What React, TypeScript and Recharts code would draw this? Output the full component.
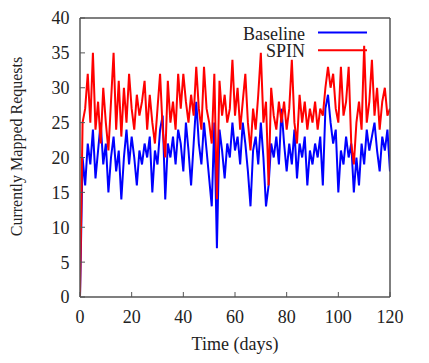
import { Legend, Line, LineChart, XAxis, YAxis } from "recharts";

// requests mapped per day
const baseline = [
  0, 20, 16, 22, 19, 24, 17, 21, 25, 19, 22, 15, 20, 23, 18, 21, 14, 20, 24, 19,
  23, 20, 16, 21, 19, 22, 20, 23, 15, 21, 19, 24, 26, 14, 22, 20, 23, 19, 24, 22,
  18, 25, 21, 16, 22, 28, 22, 19, 25, 21, 17, 13, 25, 7, 24, 21, 17, 22, 20, 25,
  21, 23, 19, 25, 22, 18, 13, 21, 23, 19, 25, 20, 13, 16, 22, 20, 23, 19, 27, 22,
  18, 22, 19, 24, 17, 22, 20, 23, 16, 21, 19, 22, 20, 23, 16, 27, 29, 25, 22, 24,
  15, 21, 19, 23, 20, 22, 15, 20, 16, 22, 19, 24, 21, 23, 25, 21, 18, 23, 21, 24,
  18,
];

const spin = [
  0, 25, 27, 32, 25, 35, 24, 28, 22, 30, 25, 21, 28, 35, 24, 31, 23, 30, 25, 32,
  27, 24, 29, 26, 28, 31, 24, 29, 25, 22, 27, 32, 24, 20, 31, 25, 28, 24, 32, 27,
  32, 28, 25, 29, 26, 33, 27, 24, 33, 27, 25, 22, 32, 14, 31, 26, 29, 25, 27, 34,
  26, 30, 24, 28, 32, 25, 21, 27, 24, 29, 35, 25, 28, 16, 30, 26, 24, 28, 25, 28,
  24, 27, 34, 25, 22, 29, 25, 28, 24, 27, 25, 28, 24, 27, 26, 30, 33, 30, 32, 27,
  25, 33, 26, 28, 33, 22, 19, 25, 28, 24, 36, 25, 28, 34, 26, 30, 24, 28, 30, 26,
  27,
];

const days = baseline.map((_, i) => i);
const xTicks = [0, 20, 40, 60, 80, 100, 120];
const yTicks = [0, 5, 10, 15, 20, 25, 30, 35, 40];

const data = days.map((d, i) => ({ day: d, baseline: baseline[i], spin: spin[i] }));

const FONT = "Liberation Serif";
const FRAME = "#555";
const txt = { fontFamily: FONT };

function LegendBox({ payload }: any) {
  return (
    <svg width={429} height={70} style={txt}>
      {(payload || []).map((p: any, i: number) => (
        <g key={p.value}>
          <text
            x={305}
            y={39.5 + i * 17.7}
            textAnchor="end"
            style={txt}
            fontSize={18}
            fill="#222"
          >
            {p.value}
          </text>
          <line
            x1={318}
            x2={367}
            y1={32.5 + i * 17.7}
            y2={32.5 + i * 17.7}
            stroke={p.color}
            strokeWidth={2}
          />
        </g>
      ))}
    </svg>
  );
}

export default function App() {
  const tickStyle = { fill: "#222", fontSize: 18, style: txt };
  return (
    <div style={{ position: "absolute", left: 0, top: 0, fontFamily: FONT }}>
      <LineChart
        width={429}
        height={363}
        data={data}
        margin={{ top: 18, right: 39, left: 20, bottom: 36 }}
        style={txt}
      >
        <XAxis
          dataKey="day"
          type="number"
          domain={[0, 120]}
          ticks={xTicks}
          interval={0}
          allowDataOverflow
          height={30}
          tickSize={-5}
          tickMargin={18.5}
          axisLine={{ stroke: FRAME, strokeWidth: 1.5 }}
          tickLine={{ stroke: FRAME }}
          tick={tickStyle}
          label={{
            content: (props: any) => {
              const vb = props.viewBox;
              return (
                <text
                  x={vb.x + vb.width / 2}
                  y={350}
                  textAnchor="middle"
                  style={txt}
                  fontSize={18}
                  fill="#222"
                >
                  Time (days)
                </text>
              );
            },
          }}
        />
        <XAxis
          xAxisId="top"
          orientation="top"
          mirror
          type="number"
          domain={[0, 120]}
          ticks={xTicks}
          interval={0}
          allowDataOverflow
          tickSize={5}
          axisLine={{ stroke: FRAME, strokeWidth: 1.5 }}
          tickLine={{ stroke: FRAME }}
          tick={false}
        />
        <YAxis
          type="number"
          domain={[0, 40]}
          ticks={yTicks}
          interval={0}
          allowDataOverflow
          width={60}
          tickSize={-5}
          tickMargin={15.5}
          axisLine={{ stroke: FRAME, strokeWidth: 1.5 }}
          tickLine={{ stroke: FRAME }}
          tick={tickStyle}
          label={{
            content: (props: any) => {
              const vb = props.viewBox;
              const cy = vb.y + vb.height / 2 - 11;
              return (
                <text
                  x={22}
                  y={cy}
                  transform={`rotate(-90 22 ${cy})`}
                  textAnchor="middle"
                  style={txt}
                  fontSize={16}
                  fill="#222"
                >
                  Currently Mapped Requests
                </text>
              );
            },
          }}
        />
        <YAxis
          yAxisId="right"
          orientation="right"
          mirror
          type="number"
          domain={[0, 40]}
          ticks={yTicks}
          interval={0}
          allowDataOverflow
          width={10}
          tickSize={5}
          axisLine={{ stroke: FRAME, strokeWidth: 1.5 }}
          tickLine={{ stroke: FRAME }}
          tick={false}
        />
        <Legend
          layout="vertical"
          align="center"
          verticalAlign="middle"
          content={<LegendBox />}
          wrapperStyle={{ position: "absolute", left: 0, top: 0, width: 429, height: 70 }}
        />
        <Line
          name="Baseline"
          dataKey="baseline"
          type="linear"
          stroke="#0000ff"
          strokeWidth={2}
          dot={false}
          isAnimationActive={false}
        />
        <Line
          name="SPIN"
          dataKey="spin"
          type="linear"
          stroke="#ff0000"
          strokeWidth={2}
          dot={false}
          isAnimationActive={false}
        />
      </LineChart>
    </div>
  );
}
